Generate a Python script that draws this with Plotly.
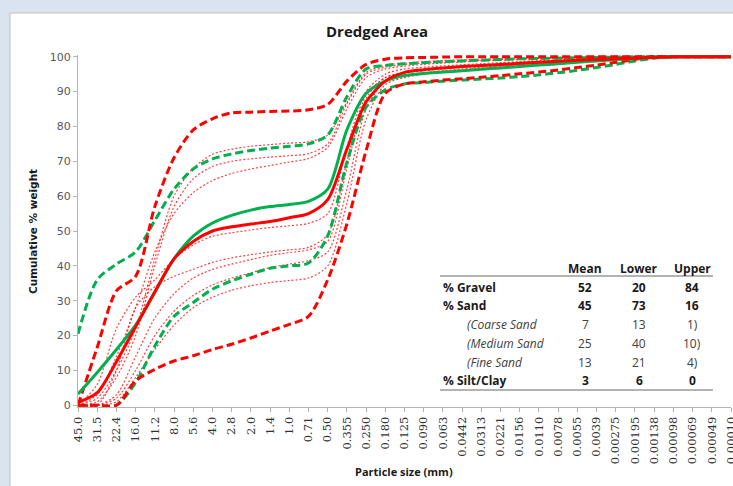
import plotly.graph_objects as go

# ---------------- data ----------------
sizes = ["45.0", "31.5", "22.4", "16.0", "11.2", "8.0", "5.6", "4.0", "2.8", "2.0",
         "1.4", "1.0", "0.71", "0.50", "0.355", "0.250", "0.180", "0.125", "0.090", "0.063",
         "0.0442", "0.0313", "0.0221", "0.0156", "0.0110", "0.0078", "0.0055", "0.0039",
         "0.00275", "0.00195", "0.00138", "0.00098", "0.00069", "0.00049", "0.00010"]

red_mean = [0.8, 3.6, 12.5, 22.5, 32.5, 42, 47, 50, 51.2, 52, 52.7, 53.8, 55, 59, 73.5, 87, 93,
            95.5, 96.3, 96.8, 97.2, 97.5, 97.8, 98.1, 98.4, 98.7, 99, 99.2, 99.4, 99.6, 99.8,
            100, 100, 100, 100]
green_mean = [3.2, 9.4, 16, 23, 32.5, 42, 48.5, 52.3, 54.5, 56, 57, 57.6, 58.5, 62, 79, 89.5, 93,
              94.6, 95.2, 95.6, 96, 96.4, 96.8, 97.2, 97.6, 98, 98.4, 98.8, 99.2, 99.5, 99.8,
              100, 100, 100, 100]
red_upper = [0, 16.6, 32.8, 37, 57, 71, 79, 82.2, 83.9, 84.1, 84.3, 84.4, 84.8, 86.3, 93, 97.8,
             99.3, 99.7, 99.8, 99.9, 100, 100, 100, 100, 100, 100, 100, 100, 100, 100, 100,
             100, 100, 100, 100]
red_lower = [0, 0, 0, 7, 10.3, 12.7, 14.2, 16, 17.5, 19.3, 21.3, 23.2, 25.5, 36, 52, 73, 89.5,
             92.2, 92.8, 93.3, 93.7, 94.1, 94.6, 95.1, 95.6, 96.2, 96.9, 97.6, 98.4, 99.2, 100,
             100, 100, 100, 100]
green_upper = [20.5, 36, 40.5, 44, 53, 62, 67.8, 70.7, 72.1, 73.1, 73.8, 74.3, 75, 77.5, 88.5,
               96.5, 97.5, 98, 98.3, 98.6, 98.8, 99, 99.2, 99.4, 99.5, 99.6, 99.7, 99.8, 99.9,
               100, 100, 100, 100, 100, 100]
green_lower = [0, 0, 0, 6.5, 17, 25.5, 29.5, 33.3, 35.7, 37.6, 39.3, 40, 40.8, 48.6, 69.7, 85.5,
               90.5, 92.2, 92.6, 93, 93.3, 93.6, 93.9, 94.3, 94.8, 95.4, 96.1, 96.9, 97.8, 98.8,
               99.6, 100, 100, 100, 100]

sample_1 = [0, 2, 10, 22, 42, 60, 68, 72, 73.5, 74.3, 74.8, 75.2, 75.6, 77.5, 87, 95.5, 97.5, 98.2,
            98.6, 98.9, 99.1, 99.3, 99.5, 99.6, 99.7, 99.8, 99.9, 100, 100, 100, 100, 100, 100, 100, 100]
sample_2 = [0, 1, 8, 20, 40, 57, 65, 68.5, 70, 70.7, 71.2, 71.6, 72.2, 75, 86.5, 95, 97, 97.8, 98.2,
            98.5, 98.8, 99, 99.2, 99.4, 99.5, 99.6, 99.7, 99.8, 99.9, 100, 100, 100, 100, 100, 100]
sample_3 = [0, 3, 14, 28, 44, 55, 61, 64.5, 66.5, 67.8, 68.8, 69.8, 70.8, 74, 85, 94, 96.5, 97.3,
            97.8, 98.2, 98.5, 98.8, 99, 99.2, 99.4, 99.5, 99.6, 99.7, 99.8, 99.9, 100, 100, 100, 100, 100]
sample_4 = [0, 6, 22, 31, 36, 42, 46, 48.5, 49.5, 50.3, 51, 51.5, 52.2, 55, 74, 90, 95, 96.5, 97,
            97.4, 97.7, 98, 98.3, 98.6, 98.9, 99.1, 99.3, 99.5, 99.7, 99.9, 100, 100, 100, 100, 100]
sample_5 = [0, 0, 10, 28, 34, 37, 39, 41, 42.3, 43.2, 44, 44.6, 45.3, 49, 70, 89, 94, 95.5, 96.2,
            96.7, 97.1, 97.5, 97.9, 98.3, 98.6, 98.9, 99.2, 99.4, 99.6, 99.8, 100, 100, 100, 100, 100]
sample_6 = [0, 0, 3, 14, 25, 32, 36.5, 39, 40.5, 41.8, 43, 43.8, 44.6, 47, 68, 88, 94, 95.3, 96,
            96.5, 97, 97.4, 97.8, 98.2, 98.5, 98.8, 99.1, 99.3, 99.5, 99.7, 99.9, 100, 100, 100, 100]
sample_7 = [0, 0, 2, 10, 20, 27, 31.5, 34.5, 36.5, 38, 39.5, 40.5, 41.5, 44, 62, 85, 93, 94.6, 95.4,
            96, 96.5, 97, 97.4, 97.8, 98.2, 98.6, 98.9, 99.2, 99.5, 99.7, 99.9, 100, 100, 100, 100]
sample_8 = [0, 0, 1, 8, 16, 23, 28, 31, 33, 34.3, 35.2, 35.8, 36.5, 40, 58, 82, 92, 94, 95, 95.6,
            96.2, 96.7, 97.2, 97.7, 98.1, 98.5, 98.9, 99.2, 99.5, 99.7, 99.9, 100, 100, 100, 100]
samples = [sample_1, sample_2, sample_3, sample_4, sample_5, sample_6, sample_7, sample_8]

table_cols = ["Mean", "Lower", "Upper"]
table_rows = ["% Gravel", "% Sand", "(Coarse Sand", "(Medium Sand", "(Fine Sand", "% Silt/Clay"]
table_mean = ["52", "45", "7", "25", "13", "3"]
table_lower = ["20", "73", "13", "40", "21", "6"]
table_upper = ["84", "16", "1)", "10)", "4)", "0"]
row_is_sub = [False, False, True, True, True, False]

# ---------------- figure ----------------
W, H = 733, 486
ML, MR, MT, MB = 78, 2, 55, 79
PW, PH = W - ML - MR, H - MT - MB


def px(xp):
    return (xp - ML) / PW


def py(yp):
    return (H - MB - yp) / PH


RED = "#FF0000"
GREEN = "#00B050"
BG = "#d9e4f0"
xs = list(range(len(sizes)))

fig = go.Figure()
for s in samples:
    fig.add_trace(go.Scatter(x=xs, y=s, mode="lines", opacity=0.75,
                             line=dict(color=RED, width=1.2, dash="2px,2px", shape="spline", smoothing=0.8),
                             hoverinfo="skip", showlegend=False))
for vals, col in [(green_upper, GREEN), (green_lower, GREEN), (red_upper, RED), (red_lower, RED)]:
    fig.add_trace(go.Scatter(x=xs, y=vals, mode="lines",
                             line=dict(color=col, width=3, dash="8px,4px", shape="spline", smoothing=0.8),
                             showlegend=False))
for vals, col in [(green_mean, GREEN), (red_mean, RED)]:
    fig.add_trace(go.Scatter(x=xs, y=vals, mode="lines",
                             line=dict(color=col, width=3, shape="spline", smoothing=0.8),
                             showlegend=False))

shapes = [
    dict(type="rect", xref="paper", yref="paper", x0=px(10), x1=px(770), y0=py(520), y1=py(13),
         fillcolor="white", line=dict(color="#c0c0c0", width=1), layer="below"),
    dict(type="line", xref="paper", yref="paper", x0=px(440), x1=px(713), y0=py(276), y1=py(276),
         line=dict(color="#9a9a9a", width=1.5)),
    dict(type="line", xref="paper", yref="paper", x0=px(440), x1=px(713), y0=py(390), y1=py(390),
         line=dict(color="#9a9a9a", width=1.5)),
]

TF = "Open Sans"
ann = [
    dict(text="<b>Dredged Area</b>", x=px(377), y=py(31), font=dict(size=15, color="#1a1a1a", family=TF)),
    dict(text="<b>Particle size (mm)</b>", x=px(404), y=py(471), font=dict(size=11, color="#1a1a1a", family=TF)),
    dict(text="<b>Cumulative % weight</b>", x=px(33), y=py(232), textangle=-90,
         font=dict(size=10.5, color="#1a1a1a", family="DejaVu Sans")),
]
col_x = [585, 639, 692]
for cx, name in zip(col_x, table_cols):
    ann.append(dict(text="<b>%s</b>" % name, x=px(cx), y=py(268), font=dict(size=12, color="#1a1a1a", family=TF)))
row_y = [287, 305, 324, 343, 362, 380]
for i, name in enumerate(table_rows):
    if row_is_sub[i]:
        ann.append(dict(text="<i>%s</i>" % name, x=px(465), y=py(row_y[i]), xanchor="left",
                        font=dict(size=12, color="#404040", family=TF)))
    else:
        ann.append(dict(text="<b>%s</b>" % name, x=px(441), y=py(row_y[i]), xanchor="left",
                        font=dict(size=12, color="#1a1a1a", family=TF)))
    for cx, v in zip(col_x, [table_mean[i], table_lower[i], table_upper[i]]):
        t = v if row_is_sub[i] else "<b>%s</b>" % v
        ann.append(dict(text=t, x=px(cx), y=py(row_y[i]),
                        font=dict(size=12, color="#404040" if row_is_sub[i] else "#1a1a1a", family=TF)))
for a in ann:
    a.setdefault("xref", "paper")
    a.setdefault("yref", "paper")
    a.setdefault("showarrow", False)
    a.setdefault("yanchor", "middle")
    a.setdefault("xanchor", "center")

fig.update_layout(
    width=W, height=H,
    margin=dict(l=ML, r=MR, t=MT, b=MB, pad=0, autoexpand=False),
    paper_bgcolor=BG,
    plot_bgcolor="rgba(0,0,0,0)",
    shapes=shapes,
    annotations=ann,
    showlegend=False,
    xaxis=dict(range=[0, len(sizes) - 1], tickmode="array", tickvals=xs, ticktext=sizes,
               tickangle=-90, showgrid=False, zeroline=False, showline=True, linecolor="#b3b3b3",
               linewidth=1, ticks="outside", ticklen=4, tickcolor="#b3b3b3", automargin=False,
               ticklabeloverflow="allow",
               tickfont=dict(family="DejaVu Serif", size=11.5, color="#333333")),
    yaxis=dict(range=[-0.5, 100.5], tickmode="array", tickvals=list(range(0, 101, 10)),
               showgrid=False, zeroline=False, showline=True, linecolor="#b3b3b3", linewidth=1,
               ticks="outside", ticklen=4, tickcolor="#b3b3b3", automargin=False,
               tickfont=dict(family="DejaVu Sans", size=11, color="#595959")),
)

fig.write_html("out.html", config={"displayModeBar": False},
               post_script="document.body.style.margin='0';document.body.style.overflow='hidden';"
                           "document.body.style.background='" + BG + "';")
